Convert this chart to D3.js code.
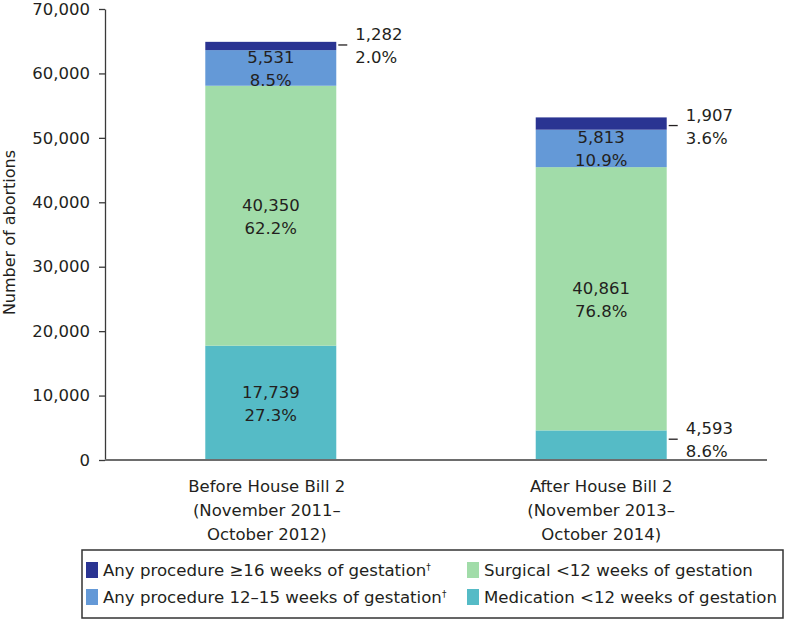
<!DOCTYPE html>
<html>
<head>
<meta charset="utf-8">
<script src="https://cdn.jsdelivr.net/npm/d3@7"></script>
<style>
  html, body { margin: 0; padding: 0; background: #fff; }
  svg { display: block; }
  text { font-family: "DejaVu Sans", sans-serif; fill: #231f20; }
</style>
</head>
<body>
<svg id="chart" width="786" height="621"></svg>
<script>
// ---- data ----
const categories = ["Before House Bill 2", "After House Bill 2"];
const categoryLines = [
  ["Before House Bill 2", "(November 2011–", "October 2012)"],
  ["After House Bill 2", "(November 2013–", "October 2014)"]
];
const seriesNames = [
  "Medication <12 weeks of gestation",
  "Surgical <12 weeks of gestation",
  "Any procedure 12–15 weeks of gestation†",
  "Any procedure ≥16 weeks of gestation†"
];
const medication = [17739, 4593];
const surgical = [40350, 40861];
const weeks12to15 = [5531, 5813];
const weeks16plus = [1282, 1907];
const medicationPct = ["27.3%", "8.6%"];
const surgicalPct = ["62.2%", "76.8%"];
const weeks12to15Pct = ["8.5%", "10.9%"];
const weeks16plusPct = ["2.0%", "3.6%"];
const yTicks = [0, 10000, 20000, 30000, 40000, 50000, 60000, 70000];
const colors = ["#55bbc6", "#a1dca9", "#6499d7", "#2a3492"];
// label placement: true = outside (leader), false = inside
const outside = [
  [false, true],   // medication
  [false, false],  // surgical
  [false, false],  // 12-15
  [true, true]     // 16+
];
// vertical nudge for outside labels (px)
const outsideNudge = [
  [0, -6],
  [0, 0],
  [0, 0],
  [-1, 2]
];

const seriesValues = [medication, surgical, weeks12to15, weeks16plus];
const seriesPcts = [medicationPct, surgicalPct, weeks12to15Pct, weeks16plusPct];

const svg = d3.select("#chart");
const x0 = 105, x1 = 767, yTop = 9, yBottom = 460;

const x = d3.scaleBand().domain(categories).range([x0, x1])
  .paddingInner(0.6036).paddingOuter(0.3035);
const y = d3.scaleLinear().domain([0, 70000]).range([yBottom, yTop]);

// stacked data
const table = categories.map((c, i) => {
  const o = { cat: c };
  seriesNames.forEach((s, k) => o[s] = seriesValues[k][i]);
  return o;
});
const stack = d3.stack().keys(seriesNames)(table);

// bars
const g = svg.append("g");
stack.forEach((layer, k) => {
  g.selectAll(null).data(layer).enter().append("rect")
    .attr("x", d => x(d.data.cat))
    .attr("width", x.bandwidth())
    .attr("y", d => y(d[1]))
    .attr("height", d => y(d[0]) - y(d[1]))
    .attr("fill", colors[k]);
});

// y axis
const yAxis = d3.axisLeft(y).tickValues(yTicks).tickFormat(d3.format(",")).tickSize(6).tickSizeOuter(0).tickPadding(9);
const ya = svg.append("g").attr("transform", `translate(${x0},0)`).call(yAxis);
ya.select(".domain").attr("stroke", "#3a3a3a").attr("stroke-width", 1.3);
ya.selectAll(".tick line").attr("stroke", "#3a3a3a").attr("stroke-width", 1.3);
ya.selectAll(".tick text").style("font-size", "16.5px").style("font-family", "DejaVu Sans").attr("fill", "#231f20");

// x axis baseline
svg.append("line").attr("x1", x0).attr("x2", x1).attr("y1", yBottom).attr("y2", yBottom)
  .attr("stroke", "#6d6d6d").attr("stroke-width", 2);

// y axis title
svg.append("text")
  .attr("transform", `translate(15,${(yTop + yBottom) / 2 - 2}) rotate(-90)`)
  .attr("text-anchor", "middle")
  .style("font-size", "16px")
  .text("Number of abortions");

// category labels
categories.forEach((c, i) => {
  const cx = x(c) + x.bandwidth() / 2 - (i === 0 ? 4 : 0);
  categoryLines[i].forEach((line, j) => {
    svg.append("text").attr("x", cx).attr("y", 492 + j * 24)
      .attr("text-anchor", "middle").style("font-size", "16.5px").text(line);
  });
});

// value labels
const fmt = d3.format(",");
stack.forEach((layer, k) => {
  layer.forEach((d, i) => {
    const midY = (y(d[0]) + y(d[1])) / 2;
    const val = fmt(d[1] - d[0]);
    const pct = seriesPcts[k][i];
    if (outside[k][i]) {
      const bx = x(d.data.cat) + x.bandwidth();
      const ly = midY + outsideNudge[k][i];
      svg.append("line").attr("x1", bx + 2).attr("x2", bx + 11)
        .attr("y1", ly).attr("y2", ly).attr("stroke", "#231f20").attr("stroke-width", 1.3);
      svg.append("text").attr("x", bx + 19).attr("y", ly - 5).style("font-size", "16.5px").text(val);
      svg.append("text").attr("x", bx + 19).attr("y", ly + 18).style("font-size", "16.5px").text(pct);
    } else {
      const cx = x(d.data.cat) + x.bandwidth() / 2;
      svg.append("text").attr("x", cx).attr("y", midY - 5).attr("text-anchor", "middle").style("font-size", "16.5px").text(val);
      svg.append("text").attr("x", cx).attr("y", midY + 18).attr("text-anchor", "middle").style("font-size", "16.5px").text(pct);
    }
  });
});

// legend
svg.append("rect").attr("x", 82).attr("y", 550).attr("width", 701).attr("height", 68)
  .attr("fill", "none").attr("stroke", "#333").attr("stroke-width", 1.5);
const legendOrder = [3, 1, 2, 0];
const legPos = [[86, 562], [467, 562], [86, 589], [467, 589]];
legendOrder.forEach((k, j) => {
  const [lx, ly] = legPos[j];
  svg.append("rect").attr("x", lx).attr("y", ly).attr("width", 12).attr("height", 16).attr("fill", colors[k]);
  const name = seriesNames[k];
  const t = svg.append("text").attr("x", lx + 17).attr("y", ly + 14).style("font-size", "16.6px");
  if (name.endsWith("†")) {
    t.append("tspan").text(name.slice(0, -1));
    t.append("tspan").attr("dy", -6).style("font-size", "9px").text("†");
  } else {
    t.text(name);
  }
});
</script>
</body>
</html>
